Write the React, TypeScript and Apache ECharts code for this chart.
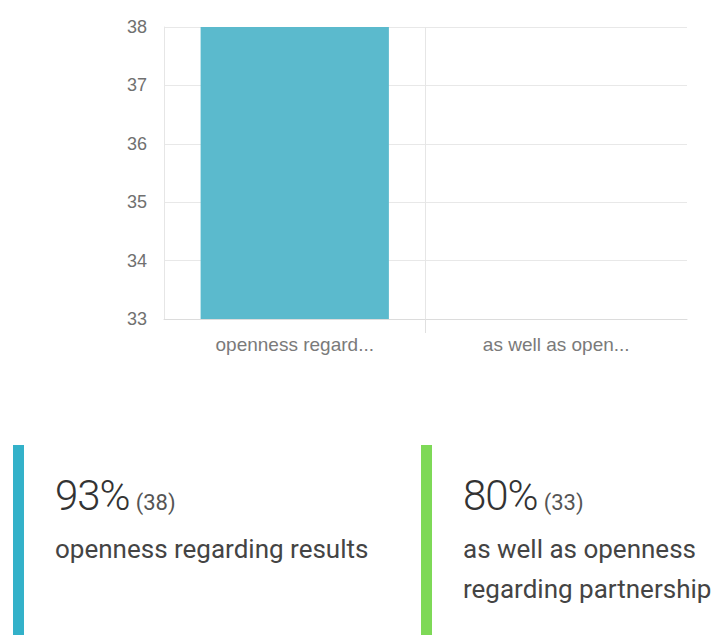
import React, { useEffect, useRef } from "react";
import * as echarts from "echarts";

const categories = ["openness regarding results", "as well as openness regarding partnership"];
const counts = [38, 33];
const percents = [93, 80];
const yTicks = [33, 34, 35, 36, 37, 38];
const dividerSlots = ["", "", ""];
const cardColors = ["#33b1c9", "#7ed957"];
const barColor = "#5bbacd";

function truncate(s: string, n: number) {
  return s.length > n ? s.slice(0, n) + "..." : s;
}

function Chart() {
  const ref = useRef<HTMLDivElement>(null);
  useEffect(() => {
    if (!ref.current) return;
    const chart = echarts.init(ref.current, undefined, { renderer: "svg" });
    chart.setOption({
      animation: false,
      grid: { left: 164, right: 31, top: 27, bottom: 51, containLabel: false },
      xAxis: [
        {
          type: "category",
          data: categories,
          axisLine: { show: true, lineStyle: { color: "#dcdcdc" } },
          axisTick: { show: false },
          splitLine: { show: false },
          axisLabel: {
            formatter: (v: string) => truncate(v, 15),
            color: "#7a7a7a",
            fontSize: 19,
            fontFamily: "Liberation Sans, Arial, sans-serif",
            margin: 16,
          },
        },
        {
          type: "category",
          data: dividerSlots,
          position: "bottom",
          boundaryGap: false,
          axisLine: { show: false },
          axisLabel: { show: false },
          axisTick: {
            show: true,
            length: 14,
            interval: (i: number) => i === 1,
            lineStyle: { color: "#e0e0e0" },
          },
          splitLine: {
            show: true,
            interval: (i: number) => i === 1,
            lineStyle: { color: "#e6e6e6" },
          },
        },
      ],
      yAxis: {
        type: "value",
        min: yTicks[0],
        max: yTicks[yTicks.length - 1],
        interval: 1,
        axisLine: { show: true, lineStyle: { color: "#e6e6e6" } },
        axisTick: { show: false },
        splitLine: { show: true, lineStyle: { color: "#e8e8e8" } },
        axisLabel: {
          color: "#707070",
          fontSize: 18,
          fontFamily: "Liberation Sans, Arial, sans-serif",
          margin: 17,
        },
      },
      series: [
        {
          type: "bar",
          xAxisIndex: 0,
          data: counts,
          barWidth: "72%",
          itemStyle: { color: barColor },
        },
      ],
    });
    return () => chart.dispose();
  }, []);
  return <div ref={ref} style={{ position: "absolute", left: 0, top: 0, width: 718, height: 370 }} />;
}

function Card({ idx, left, width }: { idx: number; left: number; width: number }) {
  return (
    <>
      <div
        style={{
          position: "absolute",
          left: left,
          top: 445,
          width: 11,
          height: 190,
          background: cardColors[idx],
        }}
      />
      <div
        style={{
          position: "absolute",
          left: left + 42,
          top: 475,
          whiteSpace: "nowrap",
          fontFamily: "Roboto, sans-serif",
          color: "#333",
          lineHeight: "42px",
        }}
      >
        <span style={{ fontSize: 42, fontWeight: 300, letterSpacing: -1 }}>{percents[idx]}%</span>
        <span style={{ fontSize: 22, fontWeight: 400, color: "#555", marginLeft: 6 }}>({counts[idx]})</span>
      </div>
      <div
        style={{
          position: "absolute",
          left: left + 42,
          top: 529,
          width: width,
          fontFamily: "Roboto, sans-serif",
          fontSize: 26,
          lineHeight: "40px",
          color: "#444",
        }}
      >
        {categories[idx]}
      </div>
    </>
  );
}

export default function App() {
  return (
    <div
      style={{
        position: "fixed",
        left: 0,
        top: 0,
        width: 718,
        height: 635,
        background: "#fff",
        overflow: "hidden",
      }}
    >
      <Chart />
      <Card idx={0} left={13} width={360} />
      <Card idx={1} left={421} width={256} />
    </div>
  );
}
